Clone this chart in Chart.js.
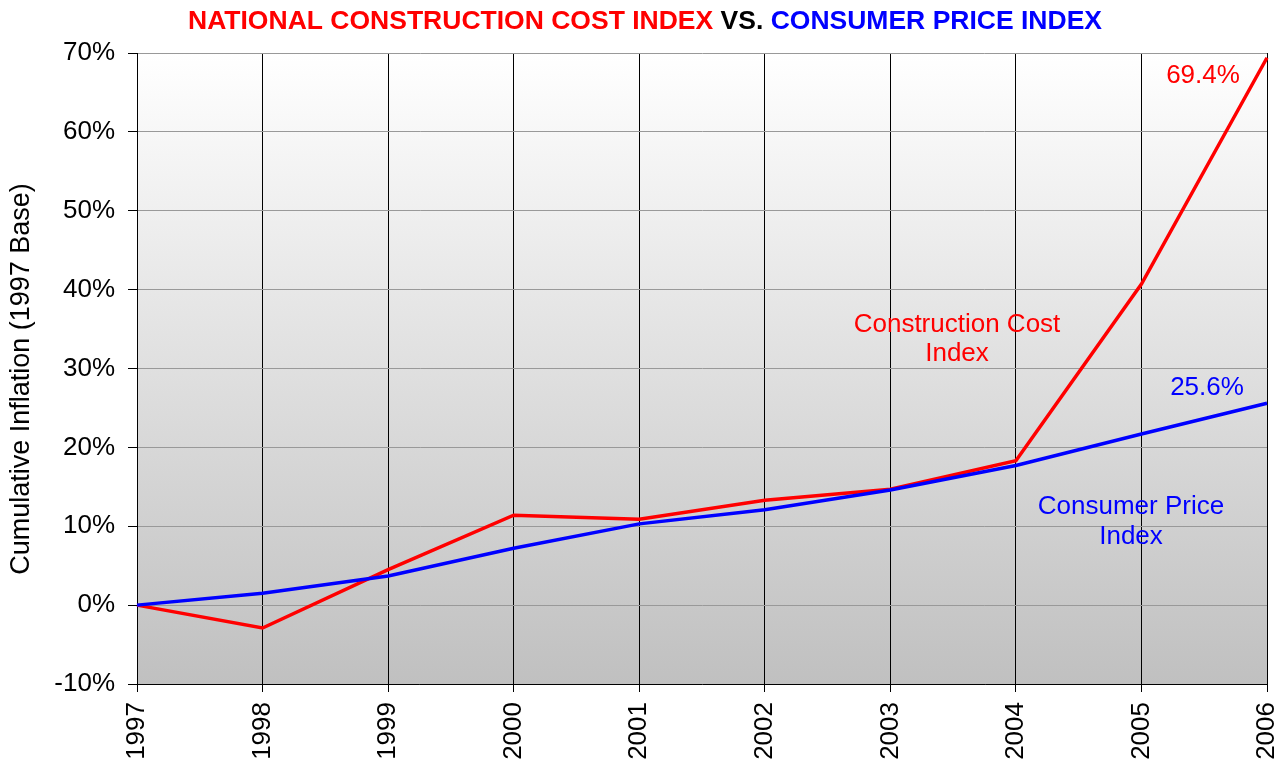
<!DOCTYPE html>
<html><head><meta charset="utf-8">
<script src="https://cdn.jsdelivr.net/npm/chart.js@4"></script>
<style>html,body{margin:0;padding:0;background:#fff}#wrap{width:1282px;height:765px}</style>
</head><body><div id="wrap"><canvas id="c" width="1282" height="765"></canvas></div>
<script>
const years = ['1997','1998','1999','2000','2001','2002','2003','2004','2005','2006'];
const constructionCost = [0, -2.9, 4.5, 11.4, 10.9, 13.3, 14.7, 18.3, 40.7, 69.4];
const consumerPrice = [0, 1.5, 3.7, 7.2, 10.3, 12.1, 14.6, 17.7, 21.7, 25.6];
const yTicks = [-10, 0, 10, 20, 30, 40, 50, 60, 70];
const titleParts = [['NATIONAL CONSTRUCTION COST INDEX ', '#ff0000'], ['VS. ', '#000000'], ['CONSUMER PRICE INDEX', '#0000ff']];
const yTitle = 'Cumulative Inflation (1997 Base)';
const FONT = 'Arial, "Liberation Sans", sans-serif';

const bgPlugin = {
  id: 'bg',
  beforeDraw(chart) {
    const {ctx, chartArea: a} = chart;
    const g = ctx.createLinearGradient(0, a.top, 0, a.bottom);
    g.addColorStop(0, '#ffffff');
    g.addColorStop(1, '#c0c0c0');
    ctx.save(); ctx.fillStyle = g; ctx.fillRect(a.left, a.top, a.right - a.left, a.bottom - a.top); ctx.restore();
  },
  afterDraw(chart) {
    const {ctx} = chart;
    const y = chart.scales.y;
    ctx.save();
    ctx.font = 'bold 26px "Liberation Sans Narrow", ' + FONT;
    let total = 0; titleParts.forEach(p => total += ctx.measureText(p[0]).width);
    const targetW = 914, sx = targetW / total;
    ctx.translate(188, 28.5); ctx.scale(sx, 1);
    ctx.textBaseline = 'alphabetic'; ctx.textAlign = 'left';
    let cx = 0;
    titleParts.forEach(p => { ctx.fillStyle = p[1]; ctx.fillText(p[0], cx, 0); cx += ctx.measureText(p[0]).width; });
    ctx.restore();
    // y-axis title
    ctx.save();
    ctx.font = '27px ' + FONT; ctx.fillStyle = '#000'; ctx.textAlign = 'center'; ctx.textBaseline = 'middle';
    ctx.translate(22, 379); ctx.rotate(-Math.PI / 2);
    ctx.fillText(yTitle, 0, 0);
    ctx.restore();
    ctx.save();
    ctx.font = '26px ' + FONT; ctx.textBaseline = 'middle'; ctx.textAlign = 'center';
    ctx.fillStyle = '#ff0000';
    ctx.fillText('69.4%', 1203, y.getPixelForValue(67.1));
    ctx.fillText('Construction Cost', 957, y.getPixelForValue(35.6));
    ctx.fillText('Index', 957, y.getPixelForValue(31.8));
    ctx.fillStyle = '#0000ff';
    ctx.fillText('25.6%', 1207, y.getPixelForValue(27.6));
    ctx.fillText('Consumer Price', 1131, y.getPixelForValue(12.4));
    ctx.fillText('Index', 1131, y.getPixelForValue(8.6));
    ctx.restore();
  }
};

new Chart(document.getElementById('c'), {
  type: 'line',
  data: {
    labels: years,
    datasets: [
      {label: 'Consumer Price Index', data: consumerPrice, borderColor: '#0000ff', borderWidth: 3.5, pointRadius: 0, tension: 0},
      {label: 'Construction Cost Index', data: constructionCost, borderColor: '#ff0000', borderWidth: 3.5, pointRadius: 0, tension: 0}
    ]
  },
  options: {
    responsive: false, animation: false,
    layout: {padding: {top: 53, right: 15, left: 0, bottom: 0}},
    plugins: {legend: {display: false}, tooltip: {enabled: false}, title: {display: false}},
    scales: {
      x: {
        type: 'category', offset: false,
        grid: {color: '#000000', lineWidth: 1, tickLength: 8, tickColor: '#000000'},
        border: {color: '#000000', width: 1},
        ticks: {font: {family: FONT, size: 26}, color: '#000', minRotation: 90, maxRotation: 90, padding: 10, autoSkip: false},
        afterFit(s) { s.height = 81; s.paddingLeft = 0; s.paddingRight = 0; }
      },
      y: {
        min: -10, max: 70,
        afterBuildTicks(s) { s.ticks = yTicks.map(v => ({value: v})); },
        grid: {color: '#999999', lineWidth: 1, tickLength: 9, tickColor: '#000000'},
        border: {color: '#000000', width: 1},
        ticks: {font: {family: FONT, size: 26}, color: '#000', padding: 13, callback: v => v + '%'},
        title: {display: false},
        afterFit(s) { s.width = 137; s.paddingTop = 0; s.paddingBottom = 0; }
      }
    }
  },
  plugins: [bgPlugin]
});
</script>
</body></html>
